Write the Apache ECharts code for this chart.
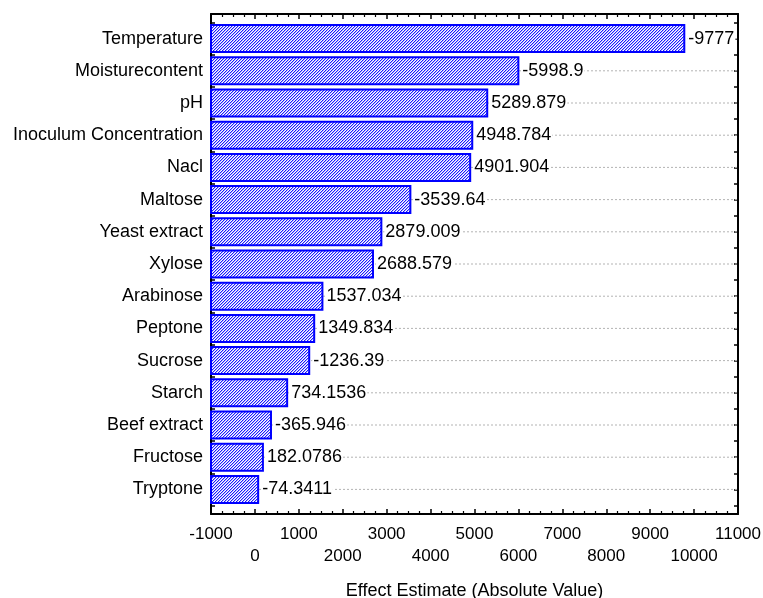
<!DOCTYPE html>
<html>
<head>
<meta charset="utf-8">
<script src="https://cdn.jsdelivr.net/npm/echarts@6/dist/echarts.min.js"></script>
<style>html,body{margin:0;padding:0;background:#fff}#c{width:763px;height:598px}</style>
</head>
<body>
<div id="c"></div>
<script>
const categories = ['Temperature','Moisturecontent','pH','Inoculum Concentration','Nacl','Maltose','Yeast extract','Xylose','Arabinose','Peptone','Sucrose','Starch','Beef extract','Fructose','Tryptone'];
const effects = [-9777, -5998.9, 5289.879, 4948.784, 4901.904, -3539.64, 2879.009, 2688.579, 1537.034, 1349.834, -1236.39, 734.1536, -365.946, 182.0786, -74.3411];
const xMin = -1000, xMax = 11000, xStep = 1000;
const axisTitle = 'Effect Estimate (Absolute Value)';

const FONT = '"Liberation Sans", Arial, sans-serif';
// hatch tile: "/" diagonal lines
const N = 3;
const pc = document.createElement('canvas');
pc.width = N; pc.height = N;
const g = pc.getContext('2d');
g.fillStyle = '#ffffff'; g.fillRect(0,0,N,N);
for (let x = 0; x < N; x++) for (let y = 0; y < N; y++) {
  const s = (x + y) % N;
  if (s === N - 1) { g.fillStyle = '#1a1aff'; g.fillRect(x,y,1,1); }
  else if (s === 0) { g.fillStyle = '#b0b0ff'; g.fillRect(x,y,1,1); }
}
const pattern = {image: pc, repeat: 'repeat'};

const data = categories.map((c,i) => [Math.abs(effects[i]), i]);
const nCat = categories.length;

const frameLine = {show:true, onZero:false, lineStyle:{color:'#000', width:2}};
const L = 211, R = 25;
const isOdd = (v) => Math.abs(Math.round(v/1000)) % 2 === 1;
const labelBase = {color:'#000', fontFamily:FONT, fontSize:17, hideOverlap:false};
const chart = echarts.init(document.getElementById('c'), null, {renderer:'canvas'});
chart.setOption({
  animation:false,
  grid:[
    {left:L, right:R, top:14, bottom:84, containLabel:false, outerBoundsMode:'none'},
    {left:L, right:R, top:22.5, bottom:92.5, containLabel:false, outerBoundsMode:'none'}
  ],
  xAxis:[{
    gridIndex:0, type:'value', min:xMin, max:xMax, interval:xStep, position:'bottom',
    axisLine: frameLine,
    axisTick:{show:true, inside:true, length:5, lineStyle:{color:'#000', width:1.5}},
    minorTick:{show:true, splitNumber:4, length:3, lineStyle:{color:'#000', width:1.2}},
    splitLine:{show:false},
    axisLabel:Object.assign({margin:12, formatter:(v)=> isOdd(v) ? String(v) : ''}, labelBase),
    name: axisTitle, nameLocation:'middle', nameGap:68,
    nameTextStyle:{color:'#000', fontFamily:FONT, fontSize:18}
  },{
    gridIndex:0, type:'value', min:xMin, max:xMax, interval:xStep, position:'bottom',
    axisLine:{show:false, onZero:false}, axisTick:{show:false}, splitLine:{show:false},
    axisLabel:Object.assign({margin:34, formatter:(v)=> isOdd(v) ? '' : String(v)}, labelBase)
  },{
    gridIndex:0, type:'value', min:xMin, max:xMax, interval:xStep, position:'top',
    axisLine: frameLine,
    axisTick:{show:true, inside:true, length:5, lineStyle:{color:'#000', width:1.5}},
    minorTick:{show:true, splitNumber:4, length:3, lineStyle:{color:'#000', width:1.2}},
    splitLine:{show:false}, axisLabel:{show:false}
  },{
    gridIndex:1, type:'value', min:xMin, max:xMax, show:false
  }],
  yAxis:[{
    gridIndex:0, type:'value', min:0, max:1, position:'left',
    axisLine: frameLine, axisTick:{show:false}, axisLabel:{show:false}, splitLine:{show:false}
  },{
    gridIndex:0, type:'value', min:0, max:1, position:'right',
    axisLine: frameLine, axisTick:{show:false}, axisLabel:{show:false}, splitLine:{show:false}
  },{
    gridIndex:1, type:'category', data:categories, inverse:true, position:'left',
    axisLine:{show:false}, axisTick:{show:false},
    axisLabel:{color:'#000', fontFamily:FONT, fontSize:18, margin:8},
    splitLine:{show:false}
  },{
    gridIndex:1, type:'value', min:0, max:nCat, interval:1, position:'left',
    axisLine:{show:false, onZero:false}, axisLabel:{show:false}, splitLine:{show:false},
    axisTick:{show:true, inside:true, length:4, lineStyle:{color:'#000', width:1.5}},
    minorTick:{show:true, splitNumber:2, length:4, lineStyle:{color:'#000', width:1.5}}
  },{
    gridIndex:1, type:'value', min:0, max:nCat, interval:1, position:'right',
    axisLine:{show:false, onZero:false}, axisLabel:{show:false}, splitLine:{show:false},
    axisTick:{show:true, inside:true, length:4, lineStyle:{color:'#000', width:1.5}},
    minorTick:{show:true, splitNumber:2, length:4, lineStyle:{color:'#000', width:1.5}}
  }],
  series:[{
    type:'custom', xAxisIndex:3, yAxisIndex:2, data:data,
    encode:{x:0, y:1},
    clip:false,
    renderItem:(params, api)=>{
      const idx = api.value(1);
      const v = api.value(0);
      const s = api.coord([xMin, idx]);
      const e = api.coord([v, idx]);
      const h = api.size([0,1])[1]*0.84;
      const right = params.coordSys.x + params.coordSys.width;
      return {type:'group', children:[
        {type:'line', shape:{x1:s[0], y1:e[1], x2:right, y2:e[1]}, style:{stroke:'#b4b4b4', lineWidth:1, lineDash:[2,2]}},
        {type:'rect', shape:{x:s[0], y:e[1]-h/2, width:e[0]-s[0], height:h}, style:{fill:pattern, stroke:'#0000ff', lineWidth:2}},
        {type:'text', x:e[0]+3, y:e[1], style:{text:String(effects[idx]), fill:'#000', font:'18px '+FONT, align:'left', verticalAlign:'middle', backgroundColor:'#fff', padding:[0,1]}}
      ]};
    }
  }]
});
</script>
</body>
</html>
